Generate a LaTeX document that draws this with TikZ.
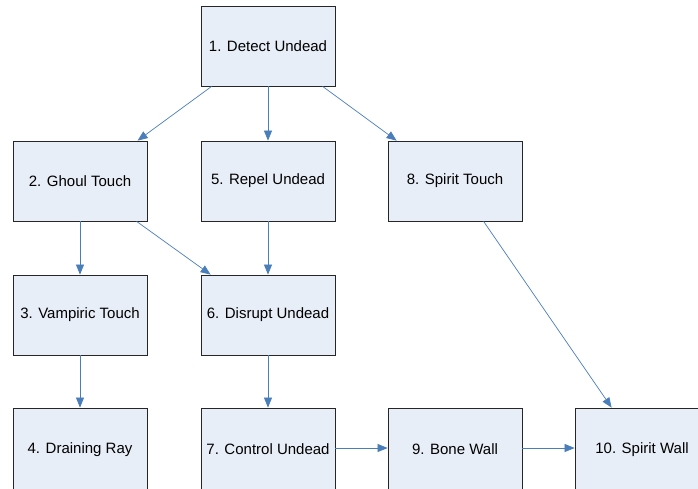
\documentclass[tikz,border=0pt]{standalone}
\usepackage{fontspec}
\setmainfont{Liberation Sans}
\usetikzlibrary{arrows.meta,calc,shadows}
\definecolor{boxfill}{RGB}{232,238,247}
\definecolor{linkblue}{RGB}{74,126,187}
\begin{document}
\begin{tikzpicture}[x=1pt,y=-1pt,
  box/.style={draw=black!85, line width=0.8pt, fill=boxfill,
    minimum width=134pt, minimum height=80pt, inner sep=0pt,
    font=\fontsize{15}{17}\selectfont,
    drop shadow={shadow xshift=1.3pt, shadow yshift=-1.3pt, fill=black!45, opacity=1}},
  lowbox/.style={box, minimum height=84pt},
  link/.style={draw=linkblue, line width=0.7pt, -{Triangle[length=10pt,width=8pt]}}]
\useasboundingbox (0,0) rectangle (698,488);
\clip (0,0) rectangle (698,488);
\fill[white] (0,0) rectangle (698,488);

% spell boxes, four rows (the last row runs past the lower edge)
\node[box] (n1)  at (268,46)  {1. Detect Undead};
\node[box] (n2)  at (80,181)  {2. Ghoul Touch};
\node[box] (n5)  at (268,181) {5. Repel Undead};
\node[box] (n8)  at (455,181) {8. Spirit Touch};
\node[box] (n3)  at (80,315)  {3. Vampiric Touch};
\node[box] (n6)  at (268,315) {6. Disrupt Undead};
\node[lowbox] (n4)  at (80,450)  {\raisebox{2pt}{4. Draining Ray}};
\node[lowbox] (n7)  at (268,450) {\raisebox{2pt}{7. Control Undead}};
\node[lowbox] (n9)  at (455,450) {\raisebox{2pt}{9. Bone Wall}};
\node[lowbox] (n10) at (642,450) {\raisebox{2pt}{10. Spirit Wall}};

% prerequisite links
\draw[link] ($(n1.south west)+(11,0)$) -- ($(n2.north west)+(125,0)$);
\draw[link] (n1.south) -- (n5.north);
\draw[link] ($(n1.south west)+(122,0)$) -- ($(n8.north west)+(9,0)$);
\draw[link] (n2.south) -- (n3.north);
\draw[link] ($(n2.south west)+(124,0)$) -- ($(n6.north west)+(10,0)$);
\draw[link] (n5.south) -- (n6.north);
\draw[link] ($(n8.south west)+(96,0)$) -- ($(n10.north west)+(37,0)$);
\draw[link] (n3.south) -- (n4.north);
\draw[link] (n6.south) -- (n7.north);
\draw[link] ($(n7.east)+(0,-2)$) -- ($(n9.west)+(0,-2)$);
\draw[link] ($(n9.east)+(0,-2)$) -- ($(n10.west)+(0,-2)$);
\end{tikzpicture}
\end{document}
